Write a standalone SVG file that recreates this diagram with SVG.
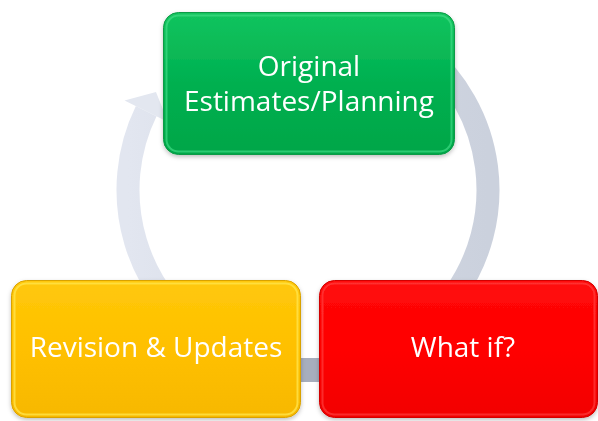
<svg xmlns="http://www.w3.org/2000/svg" width="598" height="421" viewBox="0 0 598 421">
<defs>
<style>
.lbl{font-family:"Open Sans","Liberation Sans",sans-serif;font-size:28px;fill:#ffffff;text-anchor:middle}
.ring{fill:none;stroke:url(#ringg);stroke-width:23}
</style>
<linearGradient id="ringg" x1="0" y1="0" x2="1" y2="0">
<stop offset="0" stop-color="#e2e6f0"/>
<stop offset="0.5" stop-color="#d4d9e4"/>
<stop offset="1" stop-color="#cbd1dd"/>
</linearGradient>
<linearGradient id="gG" x1="0" y1="0" x2="0" y2="1">
<stop offset="0" stop-color="#13c45e"/>
<stop offset="0.5" stop-color="#00b050"/>
<stop offset="1" stop-color="#00a648"/>
</linearGradient>
<linearGradient id="gY" x1="0" y1="0" x2="0" y2="1">
<stop offset="0" stop-color="#ffc80a"/>
<stop offset="0.5" stop-color="#ffc000"/>
<stop offset="1" stop-color="#f7b800"/>
</linearGradient>
<linearGradient id="gR" x1="0" y1="0" x2="0" y2="1">
<stop offset="0" stop-color="#ff0a0a"/>
<stop offset="0.5" stop-color="#ff0000"/>
<stop offset="1" stop-color="#f20000"/>
</linearGradient>
<filter id="sh" x="-10%" y="-10%" width="120%" height="130%">
<feDropShadow dx="0" dy="2" stdDeviation="2" flood-color="#000" flood-opacity="0.25"/>
</filter>
</defs>
<g id="connectors">
<path class="ring" d="M 423.7 52.1 A 180 180 0 1 1 146.2 111.1"/>
<rect x="300" y="358" width="20" height="24" fill="#a7aebd"/>
<polygon points="124.5,100.5 156,92 168,122" fill="#e3e7f0"/>
</g>
<g id="node-original" filter="url(#sh)">
<rect x="163.5" y="12.5" width="291" height="142" rx="15" fill="url(#gG)" stroke="#0a9a46" stroke-width="1"/>
<rect x="166.5" y="15.5" width="285" height="136" rx="12" fill="none" stroke="#3fdc85" stroke-width="2" stroke-opacity="0.7"/>
<text class="lbl" x="309" y="76">Original</text>
<text class="lbl" x="309" y="111">Estimates/Planning</text>
</g>
<g id="node-revision" filter="url(#sh)">
<rect x="11.5" y="280.5" width="289" height="137" rx="15" fill="url(#gY)" stroke="#d9a200" stroke-width="1"/>
<rect x="14.5" y="283.5" width="283" height="131" rx="12" fill="none" stroke="#ffe34a" stroke-width="2" stroke-opacity="0.8"/>
<text class="lbl" x="156" y="357">Revision &amp; Updates</text>
</g>
<g id="node-whatif" filter="url(#sh)">
<rect x="319.5" y="280.5" width="278" height="137" rx="15" fill="url(#gR)" stroke="#d00000" stroke-width="1"/>
<rect x="322.5" y="283.5" width="272" height="131" rx="12" fill="none" stroke="#ff4a4a" stroke-width="2" stroke-opacity="0.6"/>
<text class="lbl" x="463" y="357">What if?</text>
</g>
</svg>
